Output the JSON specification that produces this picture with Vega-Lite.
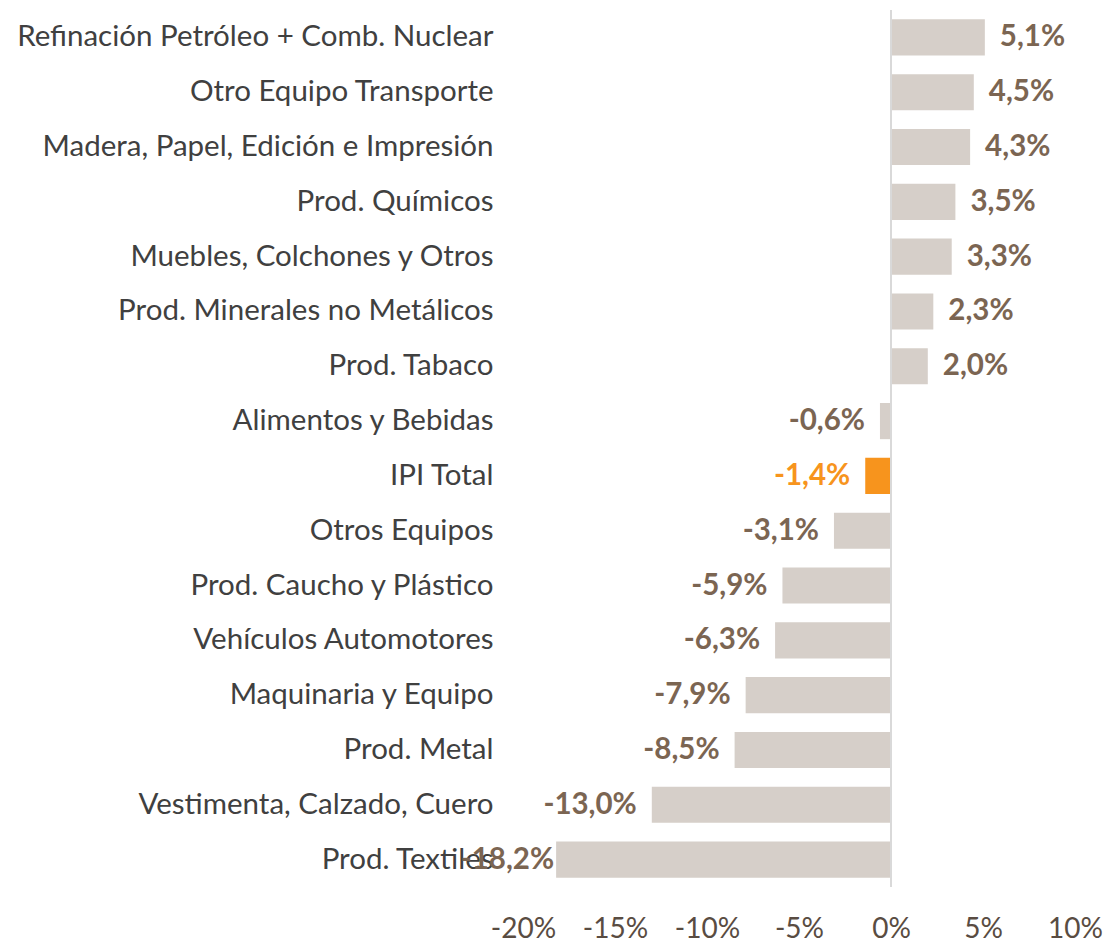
{
  "$schema": "https://vega.github.io/schema/vega-lite/v6.json",
  "autosize": {"type": "none"},
  "padding": {"left": 523, "top": 10, "right": 32, "bottom": 57},
  "width": 552,
  "height": 877,
  "background": "white",
  "config": {"view": {"stroke": null}, "font": "Lato"},
  "data": {"values": [
    {"cat": "Refinación Petróleo + Comb. Nuclear", "v": 5.1, "label": "5,1%"},
    {"cat": "Otro Equipo Transporte", "v": 4.5, "label": "4,5%"},
    {"cat": "Madera, Papel, Edición e Impresión", "v": 4.3, "label": "4,3%"},
    {"cat": "Prod. Químicos", "v": 3.5, "label": "3,5%"},
    {"cat": "Muebles, Colchones y Otros", "v": 3.3, "label": "3,3%"},
    {"cat": "Prod. Minerales no Metálicos", "v": 2.3, "label": "2,3%"},
    {"cat": "Prod. Tabaco", "v": 2.0, "label": "2,0%"},
    {"cat": "Alimentos y Bebidas", "v": -0.6, "label": "-0,6%"},
    {"cat": "IPI Total", "v": -1.4, "label": "-1,4%"},
    {"cat": "Otros Equipos", "v": -3.1, "label": "-3,1%"},
    {"cat": "Prod. Caucho y Plástico", "v": -5.9, "label": "-5,9%"},
    {"cat": "Vehículos Automotores", "v": -6.3, "label": "-6,3%"},
    {"cat": "Maquinaria y Equipo", "v": -7.9, "label": "-7,9%"},
    {"cat": "Prod. Metal", "v": -8.5, "label": "-8,5%"},
    {"cat": "Vestimenta, Calzado, Cuero", "v": -13.0, "label": "-13,0%"},
    {"cat": "Prod. Textiles", "v": -18.2, "label": "-18,2%"}
  ]},
  "encoding": {
    "y": {
      "field": "cat", "type": "nominal", "sort": null,
      "scale": {"paddingInner": 0.34, "paddingOuter": 0.17},
      "axis": {"title": null, "ticks": false, "domain": false, "labelPadding": 30, "labelFontSize": 29.5, "labelColor": "#404040", "labelLimit": 700}
    },
    "x": {
      "field": "v", "type": "quantitative",
      "scale": {"domain": [-20, 10], "nice": false, "zero": false},
      "axis": {"title": null, "values": [-20, -15, -10, -5, 0, 5, 10], "labelExpr": "datum.value + '%'", "ticks": false, "domain": false, "grid": false, "labelPadding": 28, "labelFontSize": 28, "labelColor": "#594C42", "labelFlush": false, "labelOverlap": false}
    }
  },
  "layer": [
    {
      "mark": {"type": "bar"},
      "encoding": {
        "color": {"condition": {"test": "datum.cat === 'IPI Total'", "value": "#F7941D"}, "value": "#D6CFC9"}
      }
    },
    {
      "mark": {"type": "rule", "color": "#D9D9D9", "strokeWidth": 2},
      "encoding": {"x": {"datum": 0}, "y": null}
    },
    {
      "transform": [{"filter": "datum.v >= 0"}],
      "mark": {"type": "text", "fontSize": 29.5, "fontWeight": "bold", "baseline": "middle", "align": "left", "dx": 15, "color": "#7B6552"},
      "encoding": {"text": {"field": "label"}}
    },
    {
      "transform": [{"filter": "datum.v < 0 && datum.v > -15"}],
      "mark": {"type": "text", "fontSize": 29.5, "fontWeight": "bold", "baseline": "middle", "align": "right", "dx": -15},
      "encoding": {
        "text": {"field": "label"},
        "color": {"condition": {"test": "datum.cat === 'IPI Total'", "value": "#F7941D"}, "value": "#7B6552"}
      }
    },
    {
      "transform": [{"filter": "datum.v <= -15"}],
      "mark": {"type": "text", "fontSize": 29.5, "fontWeight": "bold", "baseline": "middle", "align": "right", "dx": -2, "color": "#7B6552"},
      "encoding": {"text": {"field": "label"}}
    }
  ]
}
